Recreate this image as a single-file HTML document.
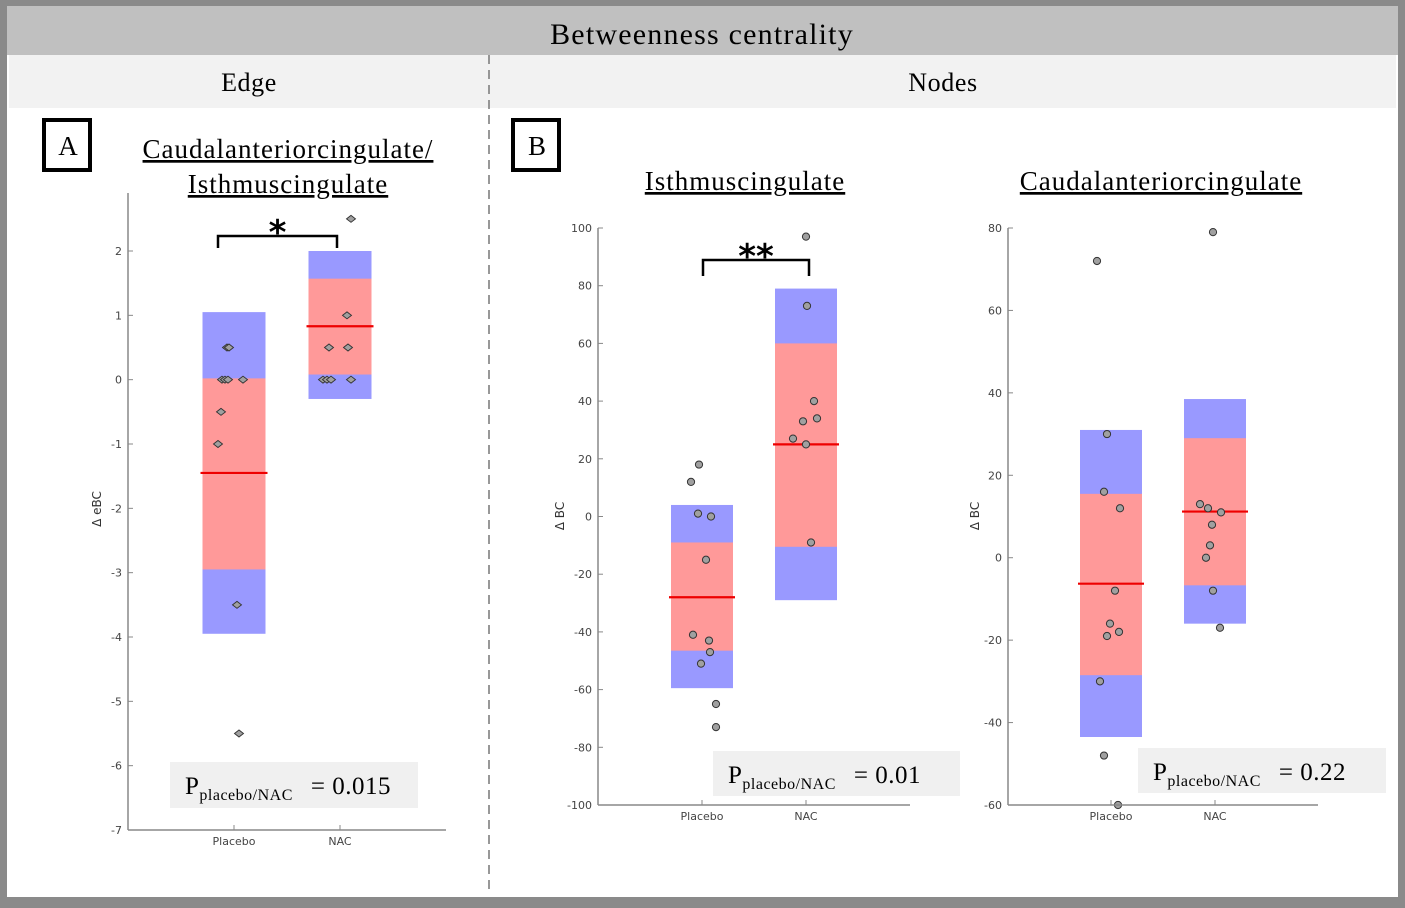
<!DOCTYPE html>
<html><head><meta charset="utf-8">
<style>
html,body{margin:0;padding:0;}
body{width:1405px;height:908px;position:relative;background:#fff;overflow:hidden;font-family:"Liberation Serif",serif;}
</style></head>
<body>
<svg id="fig" width="1405" height="908" viewBox="0 0 1405 908" xmlns="http://www.w3.org/2000/svg" style="position:absolute;left:0;top:0">
  <rect x="0" y="0" width="1405" height="908" fill="#8a8a8a"/>
  <rect x="7" y="6" width="1391" height="891" fill="#ffffff"/>
  <rect x="7" y="6" width="1391" height="49" fill="#c0c0c0"/>
  <text x="702" y="44" text-anchor="middle" font-size="30" letter-spacing="1.2" font-family="Liberation Serif, serif" fill="#000">Betweenness  centrality</text>
  <rect x="9" y="55" width="1387" height="53" fill="#f2f2f2"/>
  <text x="249" y="91" text-anchor="middle" font-size="26" letter-spacing="0.6" font-family="Liberation Serif, serif">Edge</text>
  <text x="943" y="91" text-anchor="middle" font-size="26" letter-spacing="0.6" font-family="Liberation Serif, serif">Nodes</text>
  <line x1="489" y1="55" x2="489" y2="892" stroke="#777" stroke-width="1.5" stroke-dasharray="9,6"/>
  <rect x="44" y="120" width="46" height="50" fill="none" stroke="#000" stroke-width="4"/>
  <text x="68" y="155" text-anchor="middle" font-size="27" font-family="Liberation Serif, serif">A</text>
  <rect x="513" y="120" width="46" height="50" fill="none" stroke="#000" stroke-width="4"/>
  <text x="537" y="155" text-anchor="middle" font-size="27" font-family="Liberation Serif, serif">B</text>
  <text x="288" y="158" text-anchor="middle" font-size="27" letter-spacing="1" text-decoration="underline" font-family="Liberation Serif, serif">Caudalanteriorcingulate/</text>
  <text x="288" y="193" text-anchor="middle" font-size="27" letter-spacing="1" text-decoration="underline" font-family="Liberation Serif, serif">Isthmuscingulate</text>
  <text x="745" y="190" text-anchor="middle" font-size="27" letter-spacing="1" text-decoration="underline" font-family="Liberation Serif, serif">Isthmuscingulate</text>
  <text x="1161" y="190" text-anchor="middle" font-size="27" letter-spacing="1" text-decoration="underline" font-family="Liberation Serif, serif">Caudalanteriorcingulate</text>
  <g id="plots"></g>
</svg>
<script>
// ---- Panel A data (edge eBC) ----
const groupsA = ["Placebo", "NAC"];
const ticksA = [2, 1, 0, -1, -2, -3, -4, -5, -6, -7];
const boxOuterA = [[1.05, -3.95], [2.0, -0.3]];
const boxInnerA = [[0.02, -2.95], [1.57, 0.08]];
const medianA = [-1.45, 0.83];
const pointsPlaceboA = [0.5, 0.5, 0, 0, 0, 0, -0.5, -1, -3.5, -5.5];
const jitterPlaceboA = [-7, -5, -12, -9, -6, 9, -13, -16, 3, 5];
const pointsNacA = [2.5, 1, 0.5, 0.5, 0, 0, 0, 0];
const jitterNacA = [11, 7, -11, 8, -17, -13, -9, 11];
// ---- Panel B1 data (Isthmuscingulate BC) ----
const groupsB = ["Placebo", "NAC"];
const ticksB = [100, 80, 60, 40, 20, 0, -20, -40, -60, -80, -100];
const boxOuterB = [[4, -59.5], [79, -29]];
const boxInnerB = [[-9, -46.5], [60, -10.5]];
const medianB = [-28, 25];
const pointsPlaceboB = [18, 12, 1, 0, -15, -41, -43, -47, -51, -65, -73];
const jitterPlaceboB = [-3, -11, -4, 9, 4, -9, 7, 8, -1, 14, 14];
const pointsNacB = [97, 73, 40, 34, 33, 27, 25, -9];
const jitterNacB = [0, 1, 8, 11, -3, -13, 0, 5];
// ---- Panel B2 data (Caudalanteriorcingulate BC) ----
const groupsC = ["Placebo", "NAC"];
const ticksC = [80, 60, 40, 20, 0, -20, -40, -60];
const boxOuterC = [[31, -43.5], [38.5, -16]];
const boxInnerC = [[15.5, -28.5], [29, -6.7]];
const medianC = [-6.3, 11.2];
const pointsPlaceboC = [72, 30, 16, 12, -8, -16, -19, -18, -30, -48, -60];
const jitterPlaceboC = [-14, -4, -7, 9, 4, -1, -4, 8, -11, -7, 7];
const pointsNacC = [79, 13, 12, 11, 8, 3, 0, -8, -17];
const jitterNacC = [-2, -15, -7, 6, -3, -5, -9, -2, 5];

const NS = "http://www.w3.org/2000/svg";
const root = document.getElementById("plots");
function mk(tag, attrs, parent) {
  const e = document.createElementNS(NS, tag);
  for (const k in attrs) e.setAttribute(k, attrs[k]);
  (parent || root).appendChild(e);
  return e;
}

function panel(cfg) {
  const g = mk("g", {});
  
  
  const ymax = cfg.ticks[0], ymin = cfg.ticks[cfg.ticks.length - 1];
  const y = v => cfg.top + (ymax - v) / (ymax - ymin) * (cfg.bottom - cfg.top);
  const xc = [cfg.x0, cfg.x1];
  for (let i = 0; i < 2; i++) {
    const o = mk("rect", {x: xc[i] - cfg.bw / 2, y: y(cfg.outer[i][0]), width: cfg.bw, height: y(cfg.outer[i][1]) - y(cfg.outer[i][0]), fill: "#9999ff"}, g);
    
    
    const r = mk("rect", {x: xc[i] - cfg.bw / 2, y: y(cfg.inner[i][0]), width: cfg.bw, height: y(cfg.inner[i][1]) - y(cfg.inner[i][0]), fill: "#ff9999"}, g);
    
    
    const m = mk("line", {x1: xc[i] - cfg.bw / 2 - 2, x2: xc[i] + cfg.bw / 2 + 2, y1: y(cfg.median[i]), y2: y(cfg.median[i]), stroke: "#ee0000", "stroke-width": 2.2}, g);
    
    
  }
  const sets = [[cfg.p0, cfg.j0, xc[0]], [cfg.p1, cfg.j1, xc[1]]];
  sets.forEach((s, gi) => {
    s[0].forEach((v, k) => {
      let p;
      if (cfg.diamond) {
        const cx = s[2] + s[1][k], cy = y(v);
        p = mk("path", {d: `M${cx - 4.5},${cy} L${cx},${cy - 3.5} L${cx + 4.5},${cy} L${cx},${cy + 3.5} Z`, fill: "#a0a0a0", stroke: "#333", "stroke-width": 0.9}, g);
      } else {
        p = mk("circle", {cx: s[2] + s[1][k], cy: y(v), r: 3.6, fill: "#a0a0a0", stroke: "#333", "stroke-width": 1}, g);
      }
      
      
    });
  });
  const ya = mk("line", {x1: cfg.ax, x2: cfg.ax, y1: cfg.axTop, y2: cfg.bottom, stroke: "#888", "stroke-width": 1.5}, g);
  
  
  const xa = mk("line", {x1: cfg.ax, x2: cfg.axRight, y1: cfg.bottom, y2: cfg.bottom, stroke: "#888", "stroke-width": 1.5}, g);
  
  
  cfg.ticks.forEach(t => {
    const tl = mk("line", {x1: cfg.ax, x2: cfg.ax + 5, y1: y(t), y2: y(t), stroke: "#888", "stroke-width": 1}, g);
    
    
    const tx = mk("text", {x: cfg.ax - 6, y: y(t) + 4, "text-anchor": "end", "font-size": 11, fill: "#444", "font-family": "DejaVu Sans, sans-serif"}, g);
    tx.textContent = String(t);
    
    
  });
  cfg.groups.forEach((name, i) => {
    const tl = mk("line", {x1: xc[i], x2: xc[i], y1: cfg.bottom, y2: cfg.bottom - 5, stroke: "#888", "stroke-width": 1}, g);
    
    
    const tx = mk("text", {x: xc[i], y: cfg.bottom + 15, "text-anchor": "middle", "font-size": 11, fill: "#444", "font-family": "DejaVu Sans, sans-serif"}, g);
    tx.textContent = name;
    
    
  });
  const yt = mk("text", {x: 0, y: 0, "text-anchor": "middle", "font-size": 12, fill: "#333", "font-family": "DejaVu Sans, sans-serif", transform: `translate(${cfg.ylabX},${cfg.ylabY}) rotate(-90)`}, g);
  yt.textContent = cfg.ylabel;
  
  
  const pb = mk("rect", {x: cfg.pbox[0], y: cfg.pbox[1], width: cfg.pbox[2], height: cfg.pbox[3], fill: "#f0f0f0"}, g);
  
  
  const pt = mk("text", {x: cfg.pbox[0] + 15, y: cfg.pbox[1] + 32, "font-size": 25, "letter-spacing": 0.5, "font-family": "Liberation Serif, serif", fill: "#000"}, g);
  pt.innerHTML = 'P<tspan font-size="16" dy="6">placebo/NAC</tspan><tspan dy="-6" dx="18">= ' + cfg.pval + '</tspan>';
  
  
  if (cfg.bracket) {
    const b = cfg.bracket;
    const br = mk("path", {d: `M${b[0]},${b[3]} L${b[0]},${b[2]} L${b[1]},${b[2]} L${b[1]},${b[3]}`, fill: "none", stroke: "#000", "stroke-width": 2.5}, g);
    
    
    const st = mk("text", {x: (b[0] + b[1]) / 2, y: b[2] + 8, "text-anchor": "middle", "font-size": 34, "font-weight": "bold", "font-family": "DejaVu Sans, sans-serif"}, g);
    st.textContent = cfg.stars;
    
    
  }
}

panel({name: "panel-a-edge-plot", groups: groupsA, ticks: ticksA, outer: boxOuterA, inner: boxInnerA, median: medianA,
  p0: pointsPlaceboA, j0: jitterPlaceboA, p1: pointsNacA, j1: jitterNacA, diamond: true,
  top: 251, bottom: 830, x0: 234, x1: 340, bw: 63, ax: 128, axTop: 193, axRight: 446,
  ylabel: "Δ eBC", ylabX: 101, ylabY: 509, pbox: [170, 762, 248, 46], pval: "0.015",
  bracket: [218, 337, 236, 248], stars: "*"});
panel({name: "panel-b-isthmuscingulate-plot", groups: groupsB, ticks: ticksB, outer: boxOuterB, inner: boxInnerB, median: medianB,
  p0: pointsPlaceboB, j0: jitterPlaceboB, p1: pointsNacB, j1: jitterNacB, diamond: false,
  top: 228, bottom: 805, x0: 702, x1: 806, bw: 62, ax: 598, axTop: 228, axRight: 910,
  ylabel: "Δ BC", ylabX: 564, ylabY: 516, pbox: [713, 751, 247, 45], pval: "0.01",
  bracket: [703, 809, 260, 276], stars: "**"});
panel({name: "panel-b-caudalanteriorcingulate-plot", groups: groupsC, ticks: ticksC, outer: boxOuterC, inner: boxInnerC, median: medianC,
  p0: pointsPlaceboC, j0: jitterPlaceboC, p1: pointsNacC, j1: jitterNacC, diamond: false,
  top: 228, bottom: 805, x0: 1111, x1: 1215, bw: 62, ax: 1008, axTop: 228, axRight: 1318,
  ylabel: "Δ BC", ylabX: 979, ylabY: 516, pbox: [1138, 748, 248, 45], pval: "0.22",
  bracket: null, stars: ""});
</script>
</body></html>
